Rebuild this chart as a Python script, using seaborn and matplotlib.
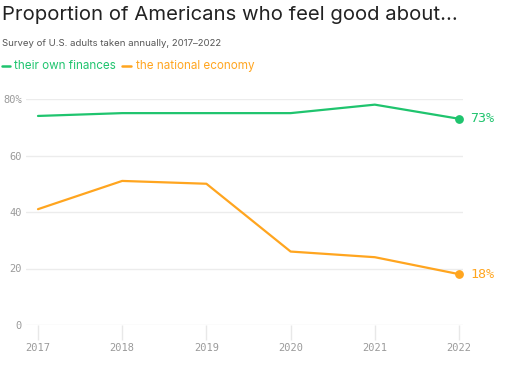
import pandas as pd
import matplotlib
matplotlib.use('Agg')
import matplotlib.pyplot as plt
from matplotlib.lines import Line2D
import seaborn as sns

# Datos
anios = [2017, 2018, 2019, 2020, 2021, 2022]
finanzas_propias = [74, 75, 75, 75, 78, 73]
economia_nacional = [41, 51, 50, 26, 24, 18]
ticks_y = [0, 20, 40, 60, 80]
etiquetas_y = ['0', '20', '40', '60', '80%']

verde = '#1fc46e'
naranja = '#ffa51f'
gris = '#9a9a9a'

df = pd.DataFrame({
    'anio': anios * 2,
    'valor': finanzas_propias + economia_nacional,
    'serie': ['their own finances'] * 6 + ['the national economy'] * 6,
})

sns.set_style('white')
plt.rcParams['font.family'] = ['Inter', 'DejaVu Sans']

fig = plt.figure(figsize=(5.18, 3.73), dpi=100)
ax = fig.add_axes([26 / 518, 48 / 373, (463 - 26) / 518, (325 - 99) / 373])

sns.lineplot(data=df, x='anio', y='valor', hue='serie',
             palette={'their own finances': verde, 'the national economy': naranja},
             linewidth=1.6, legend=False, ax=ax, clip_on=False)

# Punto final y etiqueta
for valores, color in [(finanzas_propias, verde), (economia_nacional, naranja)]:
    ax.scatter([anios[-1]], [valores[-1]], s=28, color=color, zorder=5, clip_on=False)
    ax.annotate(f'{valores[-1]}%', (anios[-1], valores[-1]), xytext=(8, 0),
                textcoords='offset points', va='center', ha='left',
                fontsize=9.6, color=color, family='DejaVu Sans Mono')

ax.set_xlim(2017 - 12 / 84.2, 2022 + 4 / 84.2)
ax.set_ylim(0, 80)
ax.set_yticks(ticks_y)
ax.set_yticklabels(etiquetas_y)
ax.set_xticks(anios)
ax.set_xticklabels([str(a) for a in anios])
for lbl in ax.get_xticklabels() + ax.get_yticklabels():
    lbl.set_family('DejaVu Sans Mono')
    lbl.set_fontsize(7.5)
    lbl.set_color(gris)

ax.grid(axis='y', color='#ececec', linewidth=1)
ax.tick_params(axis='y', left=False, length=0, pad=3)
ax.tick_params(axis='x', bottom=True, length=11, width=1, color='#e8e8e8', pad=2, direction='out')
for s in ax.spines.values():
    s.set_visible(False)
ax.set_xlabel('')
ax.set_ylabel('')

fig.text(2 / 518, 1 - 15 / 373, 'Proportion of Americans who feel good about...',
         fontsize=14.6, color='#222222', va='center', ha='left')
fig.text(2 / 518, 1 - 43 / 373, 'Survey of U.S. adults taken annually, 2017–2022',
         fontsize=6.9, color='#555555', va='center', ha='left')

# Leyenda manual
y_ley = 1 - 66 / 373
for x0, x1, xt, texto, color in [(2, 10, 14, 'their own finances', verde),
                                  (122, 131, 136, 'the national economy', naranja)]:
    fig.add_artist(Line2D([x0 / 518, x1 / 518], [y_ley, y_ley], color=color,
                          linewidth=1.8, transform=fig.transFigure))
    fig.text(xt / 518, y_ley, texto, fontsize=8.4, color=color, va='center', ha='left')

fig.savefig('out.png', dpi=100)
